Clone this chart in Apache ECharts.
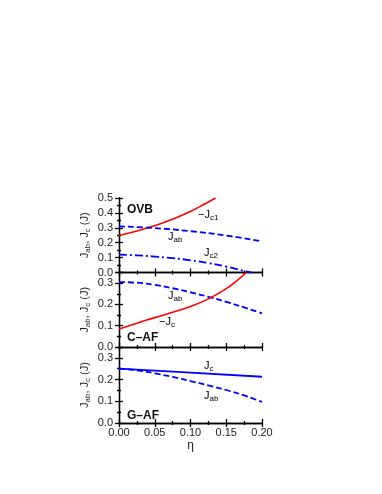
<!DOCTYPE html>
<html>
<head>
<meta charset="utf-8">
<script src="https://cdn.jsdelivr.net/npm/echarts@6/dist/echarts.min.js"></script>
<style>
  html, body { margin: 0; padding: 0; background: #fff; }
  #chart { width: 382px; height: 494px; }
</style>
</head>
<body>
<div id="chart"></div>
<script>
// OVB panel
const ovbJc1Eta = [0, 0.02, 0.04, 0.06, 0.08, 0.10, 0.12, 0.135]
const ovbJc1 = [0.248, 0.272, 0.300, 0.331, 0.367, 0.41, 0.46, 0.5]
const ovbJabEta = [0, 0.05, 0.1, 0.15, 0.2]
const ovbJab = [0.31, 0.298, 0.277, 0.248, 0.208]
const ovbJc2Eta = [0, 0.025, 0.05, 0.075, 0.1, 0.125, 0.15, 0.165, 0.185]
const ovbJc2 = [0.12, 0.115, 0.107, 0.096, 0.082, 0.063, 0.04, 0.022, 0.0]

// C-AF panel
const cafJabEta = [0, 0.025, 0.05, 0.075, 0.1, 0.125, 0.15, 0.175, 0.2]
const cafJab = [0.305, 0.302, 0.292, 0.276, 0.257, 0.236, 0.212, 0.186, 0.158]
const cafJcEta = [0, 0.025, 0.05, 0.075, 0.1, 0.125, 0.15, 0.165, 0.178]
const cafJc = [0.085, 0.112, 0.138, 0.163, 0.19, 0.226, 0.274, 0.312, 0.35]

// G-AF panel
const gafJcEta = [0, 0.1, 0.2]
const gafJc = [0.25, 0.232, 0.213]
const gafJabEta = [0, 0.025, 0.05, 0.075, 0.1, 0.125, 0.15, 0.175, 0.2]
const gafJab = [0.25, 0.243, 0.229, 0.212, 0.193, 0.173, 0.152, 0.127, 0.097]

const font = 'Liberation Sans, Arial, sans-serif'
const pair = (xs, ys) => xs.map((x, i) => [x, ys[i]])

const grids = [
  { left: 119, width: 143, top: 198, height: 74.5 },
  { left: 119, width: 143, top: 272.5, height: 74.5 },
  { left: 119, width: 143, top: 347, height: 76 }
]
const yMax = [0.5, 0.35, 0.35]

const lineStyle = { color: '#000', width: 1.3 }
const rich = {
  n: { fontSize: 11, fontFamily: font, color: '#222' },
  s: { fontSize: 8, fontFamily: font, color: '#222', padding: [7, 0, 0, 0] }
}

const xAxes = []
const yAxes = []
grids.forEach((g, i) => {
  const base = {
    gridIndex: i,
    type: 'value',
    min: 0,
    max: 0.2,
    interval: 0.05,
    axisLine: { lineStyle: lineStyle },
    axisTick: { inside: true, length: 4, lineStyle: lineStyle },
    minorTick: { show: true, splitNumber: 2, length: 2, lineStyle: lineStyle },
    splitLine: { show: false }
  }
  xAxes.push(Object.assign({}, base, {
    position: 'bottom',
    axisLabel: {
      show: i === 2,
      fontSize: 11,
      fontFamily: font,
      color: '#222',
      margin: 4,
      formatter: v => v.toFixed(2)
    },
    name: i === 2 ? 'η' : '',
    nameLocation: 'middle',
    nameGap: 17,
    nameTextStyle: { fontSize: 12, fontFamily: font, color: '#222' }
  }))
  xAxes.push(Object.assign({}, base, { position: 'top', axisLabel: { show: false } }))

  const ybase = {
    gridIndex: i,
    type: 'value',
    min: 0,
    max: yMax[i],
    interval: 0.1,
    axisLine: { lineStyle: lineStyle },
    axisTick: { inside: true, length: 4, lineStyle: lineStyle },
    minorTick: { show: true, splitNumber: 2, length: 2, lineStyle: lineStyle },
    splitLine: { show: false }
  }
  yAxes.push(Object.assign({}, ybase, {
    position: 'left',
    axisLabel: {
      fontSize: 11,
      fontFamily: font,
      color: '#222',
      margin: 6,
      formatter: v => (Math.abs(v * 10 - Math.round(v * 10)) < 1e-6 ? v.toFixed(1) : '')
    },
    name: '{n|J}{s|ab}{n|, J}{s|c}{n| (J)}',
    nameLocation: 'middle',
    nameGap: 27,
    nameTextStyle: { rich: rich }
  }))
  yAxes.push(Object.assign({}, ybase, { position: 'right', axisLabel: { show: false } }))
})

const mk = (xi, data, color, type, width) => ({
  type: 'line',
  xAxisIndex: xi,
  yAxisIndex: xi,
  data: data,
  smooth: true,
  symbol: 'none',
  clip: true,
  lineStyle: { color: color, width: width || 1.6, type: type }
})

const series = [
  mk(0, pair(ovbJc1Eta, ovbJc1), '#ff0000', 'solid'),
  mk(0, pair(ovbJabEta, ovbJab), '#0000ff', [6, 3], 1.8),
  mk(0, pair(ovbJc2Eta, ovbJc2), '#0000ff', [8, 3, 2, 3], 1.8),
  mk(2, pair(cafJabEta, cafJab), '#0000ff', [6, 3], 1.8),
  mk(2, pair(cafJcEta, cafJc), '#ff0000', 'solid'),
  mk(4, pair(gafJcEta, gafJc), '#0000ff', 'solid', 1.8),
  mk(4, pair(gafJabEta, gafJab), '#0000ff', [6, 3], 1.8)
]

const label = (x, y, text) => ({
  type: 'text', left: x, top: y,
  style: { text: text, rich: rich }
})
const title = (x, y, text) => ({
  type: 'text', left: x, top: y,
  style: { text: text, fontSize: 12, fontWeight: 'bold', fontFamily: font, fill: '#111' }
})

const chart = echarts.init(document.getElementById('chart'))
chart.setOption({
  animation: false,
  grid: grids,
  xAxis: xAxes,
  yAxis: yAxes,
  series: series,
  graphic: [
    title(127, 204, 'OVB'),
    label(198, 209, '{n|−J}{s|c1}'),
    label(168, 231, '{n|J}{s|ab}'),
    label(204, 247, '{n|J}{s|c2}'),
    title(127, 332, 'C–AF'),
    label(168, 290, '{n|J}{s|ab}'),
    label(159, 316, '{n|−J}{s|c}'),
    title(127, 410, 'G–AF'),
    label(204, 360, '{n|J}{s|c}'),
    label(204, 390, '{n|J}{s|ab}')
  ]
})
</script>
</body>
</html>
